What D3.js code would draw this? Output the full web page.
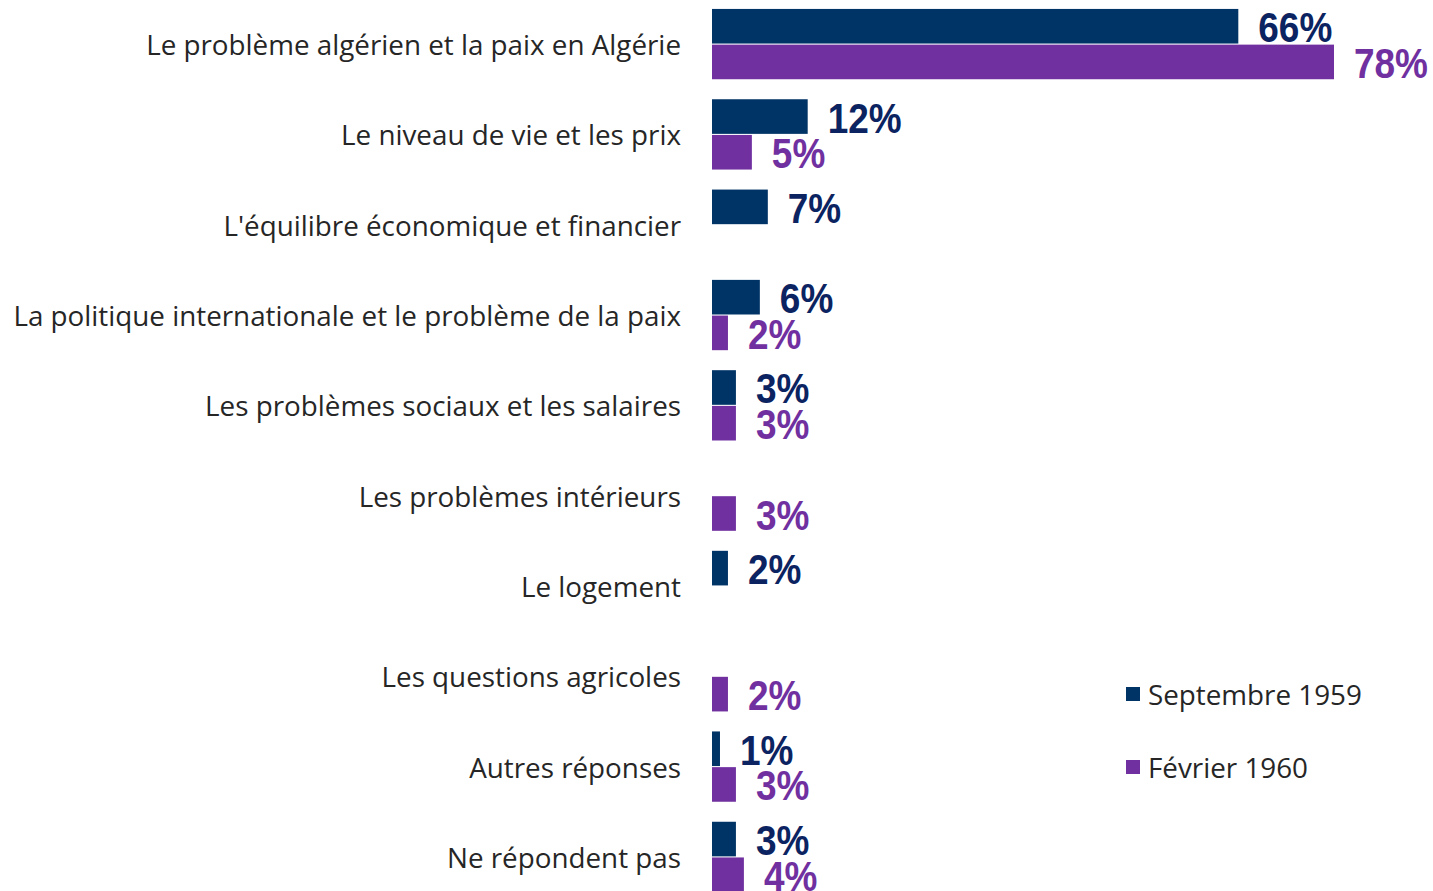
<!DOCTYPE html>
<html>
<head>
<meta charset="utf-8">
<script src="https://d3js.org/d3.v7.min.js"></script>
<style>
  body { margin: 0; background: white; }
  svg { display: block; }
</style>
</head>
<body>
<svg id="chart" width="1433" height="891"></svg>
<script>
  // categories and values (%), null = not asked
  var categories = [
    "Le problème algérien et la paix en Algérie",
    "Le niveau de vie et les prix",
    "L'équilibre économique et financier",
    "La politique internationale et le problème de la paix",
    "Les problèmes sociaux et les salaires",
    "Les problèmes intérieurs",
    "Le logement",
    "Les questions agricoles",
    "Autres réponses",
    "Ne répondent pas"
  ];
  var sep1959 = [66, 12, 7, 6, 3, null, 2, null, 1, 3];
  var fev1960 = [78, 5, null, 2, 3, 3, null, 2, 3, 4];
  var seriesNames = ["Septembre 1959", "Février 1960"];
  var barColors = ["#003366", "#7030a0"];
  var labelColors = ["#0b2461", "#7030a0"];

  var svg = d3.select("#chart");

  var x = d3.scaleLinear().domain([0, 78]).range([712, 1334]);
  var y = d3.scaleBand().domain(categories).range([-1, 902])
            .paddingInner(0.2215).paddingOuter(0.11);
  var ySub = d3.scaleBand().domain([0, 1]).range([0, y.bandwidth()]).paddingInner(0.03);

  var rows = [];
  categories.forEach(function(c, i) {
    [sep1959, fev1960].forEach(function(s, k) {
      if (s[i] != null) rows.push({cat: c, k: k, v: s[i]});
    });
  });

  // category labels
  svg.append("g").selectAll("text")
    .data(categories)
    .enter().append("text")
    .attr("x", 681)
    .attr("y", function(d) { return y(d) + y.bandwidth() / 2; })
    .attr("text-anchor", "end")
    .attr("dominant-baseline", "central")
    .style("font-family", "'Open Sans', sans-serif")
    .style("font-size", "27.8px")
    .style("fill", "#262626")
    .text(function(d) { return d; });

  // bars
  svg.append("g").selectAll("rect")
    .data(rows)
    .enter().append("rect")
    .attr("x", x(0))
    .attr("y", function(d) { return y(d.cat) + ySub(d.k); })
    .attr("width", function(d) { return x(d.v) - x(0); })
    .attr("height", ySub.bandwidth())
    .style("fill", function(d) { return barColors[d.k]; });

  // value labels (narrow bold)
  svg.append("g").selectAll("text")
    .data(rows)
    .enter().append("text")
    .attr("transform", function(d) {
      var ty = y(d.cat) + ySub(d.k) + ySub.bandwidth() / 2 + 16;
      return "translate(" + (x(d.v) + 20) + "," + ty + ") scale(0.88,1)";
    })
    .style("font-family", "'Liberation Sans', Arial, sans-serif")
    .style("font-weight", "bold")
    .style("font-size", "42px")
    .style("fill", function(d) { return labelColors[d.k]; })
    .text(function(d) { return d.v + "%"; });

  // legend
  var legend = svg.append("g").selectAll("g")
    .data(seriesNames)
    .enter().append("g")
    .attr("transform", function(d, i) { return "translate(1126," + (687 + i * 73) + ")"; });
  legend.append("rect")
    .attr("width", 14).attr("height", 14)
    .style("fill", function(d, i) { return barColors[i]; });
  legend.append("text")
    .attr("x", 22).attr("y", 7)
    .attr("dominant-baseline", "central")
    .style("font-family", "'Open Sans', sans-serif")
    .style("font-size", "27.8px")
    .style("fill", "#262626")
    .text(function(d) { return d; });
</script>
</body>
</html>
